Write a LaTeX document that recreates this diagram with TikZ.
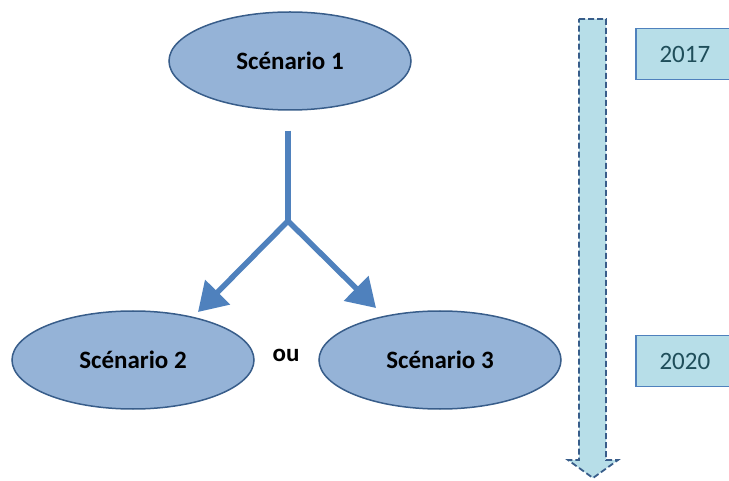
\documentclass[tikz,border=0pt]{standalone}
\usepackage{fontspec}
\setmainfont{Carlito}
\usetikzlibrary{
    arrows.meta,
    shapes.geometric
}
\definecolor{ellfill}{HTML}{95B3D7}
\definecolor{elldraw}{HTML}{385D8A}
\definecolor{arrblue}{HTML}{4F81BD}
\definecolor{timefill}{HTML}{B7DEE8}
\definecolor{yeartext}{HTML}{1F4E5A}

\begin{document}
\begin{tikzpicture}
        [
            x = 1pt, y = -1pt,
            scen/.style = {ellipse, draw = elldraw, fill = ellfill, line width = 1.5pt, inner sep = 0pt, minimum width = 242pt, minimum height = 98pt, font = \fontsize{25}{30}\selectfont\bfseries},
            year/.style = {rectangle, draw = arrblue, fill = timefill, line width = 1.8pt, inner sep = 0pt, minimum width = 110pt, minimum height = 51pt, text = yeartext, font = \fontsize{25}{30}\selectfont},
            branch/.style = {draw = arrblue, line width = 5.5pt, -{Triangle[width = 34pt, length = 28pt]}}
        ]
        \useasboundingbox (0, 0) rectangle (729, 481);
        % scenarios
        \node[scen] (s1) at (290, 61) {Scénario 1};
        \node[scen] (s2) at (133, 360) {Scénario 2};
        \node[scen] (s3) at (440, 360) {Scénario 3};
        \node[font = \fontsize{25}{30}\selectfont\bfseries] (ou) at (286, 355) {ou};
        % branching arrow
        \coordinate (j) at (288, 221);
        \coordinate (t2) at (198, 312);
        \coordinate (t3) at (376, 308);
        \draw[arrblue, line width = 5.5pt, shorten <= 20pt] (j |- s1.south) -- (j);
        \draw[branch] (j) -- (t2);
        \draw[branch] (j) -- (t3);
        % time line
        \draw[elldraw, fill = timefill, line width = 1.8pt, dash pattern = on 6pt off 3pt]
            (579, 19) -- (606, 19) -- (606, 460) -- (618, 460) -- (593, 478)
            -- (568, 460) -- (579, 460) -- cycle;
        \node[year, anchor = west] (y1) at (635, 54) {\hspace*{-12pt}2017};
        \node[year, anchor = west] (y2) at (635, 361) {\hspace*{-12pt}2020};
    \end{tikzpicture}
\end{document}
